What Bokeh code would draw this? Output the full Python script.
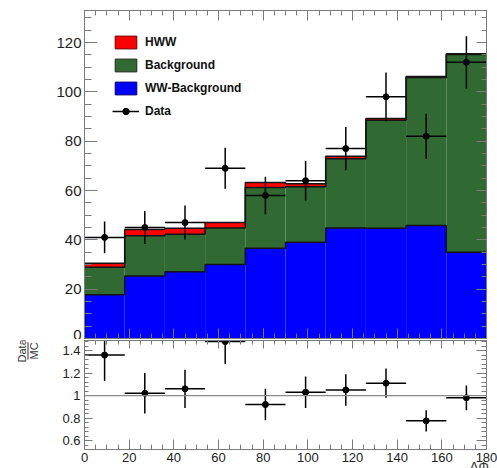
import numpy as np
from bokeh.plotting import figure
from bokeh.layouts import column, row
from bokeh.models import (Range1d, LinearAxis, SingleIntervalTicker, Legend, LegendItem,
                          Span, CustomJSTickFormatter, ColumnDataSource)
from bokeh.embed import file_html
from bokeh.resources import INLINE

# Delta-phi bin edges (degrees)
bin_edges = [0, 18, 36, 54, 72, 90, 108, 126, 144, 162, 180]

# Stacked expectation per bin (events)
ww_background = [17.7, 25.3, 27.1, 30.0, 36.6, 39.0, 44.8, 44.7, 45.8, 35.0]
other_background = [11.2, 16.4, 15.2, 14.8, 24.6, 22.5, 28.1, 43.8, 60.0, 80.2]
hww_signal = [1.6, 2.5, 2.4, 2.2, 2.1, 1.2, 1.0, 0.7, 0.4, 0.3]

# Observed data
data_counts = [41, 45, 47, 69, 58, 64, 77, 98, 82, 112]
data_errors = [6.4, 6.7, 6.9, 8.3, 7.6, 8.0, 8.8, 9.9, 9.1, 10.6]

# Data / MC ratio
ratio_values = [1.36, 1.02, 1.06, 1.48, 0.92, 1.03, 1.05, 1.11, 0.775, 0.98]
ratio_errors = [0.23, 0.18, 0.17, 0.20, 0.14, 0.14, 0.14, 0.13, 0.095, 0.11]

legend_labels = ["HWW", "Background", "WW-Background", "Data"]

FONT = "Liberation Sans"
AXC = "#7a7a7a"
TXT = "#222222"
RED = "#ff0000"
GREEN = "#306a32"
BLUE = "#0000ff"

edges = np.array(bin_edges, dtype=float)
left, right = edges[:-1], edges[1:]
centers = 0.5 * (left + right)

lvl_ww = np.array(ww_background)
lvl_bkg = lvl_ww + np.array(other_background)
lvl_tot = lvl_bkg + np.array(hww_signal)


def add_axis(p, place, ticker, major_in, minor_in, labels=False, size="15px",
             standoff=4, formatter=None):
    ax = LinearAxis(ticker=ticker)
    if formatter is not None:
        ax.formatter = formatter
    ax.major_tick_in = major_in
    ax.major_tick_out = 0
    ax.minor_tick_in = minor_in
    ax.minor_tick_out = 0
    ax.axis_line_color = AXC
    ax.major_tick_line_color = AXC
    ax.minor_tick_line_color = AXC
    if labels:
        ax.major_label_text_font = FONT
        ax.major_label_text_font_size = size
        ax.major_label_text_color = TXT
        ax.major_label_standoff = standoff
    else:
        ax.major_label_text_font_size = "0px"
        ax.major_label_standoff = 0
    p.add_layout(ax, place)
    return ax


def base_figure(width, height, y_range, left_border, top, bottom):
    p = figure(width=width, height=height, x_range=Range1d(0, 180), y_range=y_range,
               output_backend="svg", toolbar_location=None,
               x_axis_location=None, y_axis_location=None,
               min_border_left=left_border, min_border_right=11,
               min_border_top=top, min_border_bottom=bottom)
    p.grid.visible = False
    p.outline_line_color = AXC
    p.background_fill_color = "white"
    p.border_fill_color = "white"
    return p


# ---------------- main distribution ----------------
p1 = base_figure(497, 339, Range1d(0, 133), 84, 10, 1)

p1.quad(left=left, right=right, bottom=0, top=lvl_ww, fill_color=BLUE, line_color=None)
p1.quad(left=left, right=right, bottom=lvl_ww, top=lvl_bkg, fill_color=GREEN, line_color=None)
p1.quad(left=left, right=right, bottom=lvl_bkg, top=lvl_tot, fill_color=RED, line_color=None)

# histogram outlines
for lvl in (lvl_ww, lvl_bkg, lvl_tot):
    p1.step(x=edges, y=np.append(lvl, lvl[-1]), mode="after",
            line_color="#151515", line_width=1.5)

src = ColumnDataSource(dict(x=centers, y=data_counts, xl=left, xr=right,
                            lo=np.array(data_counts) - np.array(data_errors),
                            hi=np.array(data_counts) + np.array(data_errors)))
seg_h = p1.segment(x0="xl", y0="y", x1="xr", y1="y", source=src,
                   line_color="black", line_width=1.5)
p1.segment(x0="x", y0="lo", x1="x", y1="hi", source=src,
           line_color="black", line_width=1.5)
dots = p1.scatter("x", "y", source=src, size=6, color="black")

# legend swatches: outlined boxes that draw nothing inside the frame
nan = [np.nan]
sw_hww = p1.quad(left=nan, right=nan, top=nan, bottom=nan, fill_color=RED, line_color="#6a0000")
sw_bkg = p1.quad(left=nan, right=nan, top=nan, bottom=nan, fill_color=GREEN, line_color="#1c2c1c")
sw_ww = p1.quad(left=nan, right=nan, top=nan, bottom=nan, fill_color=BLUE, line_color="#00006a")

legend = Legend(items=[LegendItem(label=legend_labels[0], renderers=[sw_hww]),
                       LegendItem(label=legend_labels[1], renderers=[sw_bkg]),
                       LegendItem(label=legend_labels[2], renderers=[sw_ww]),
                       LegendItem(label=legend_labels[3], renderers=[seg_h, dots])],
                location=(28, 219), margin=0, padding=0, spacing=7,
                glyph_width=27, glyph_height=16, label_height=16, label_standoff=6,
                label_text_font=FONT, label_text_font_style="bold",
                label_text_font_size="12px", label_text_color="#111111",
                background_fill_alpha=0, border_line_alpha=0)
p1.add_layout(legend)

xt = lambda: SingleIntervalTicker(interval=20, num_minor_ticks=4)
yt = lambda: SingleIntervalTicker(interval=20, num_minor_ticks=4)
add_axis(p1, "left", yt(), 13, 7, labels=True, size="15px", standoff=3)
add_axis(p1, "right", yt(), 10, 5)
add_axis(p1, "above", xt(), 10, 5)
add_axis(p1, "below", xt(), 10, 5)

# ---------------- ratio panel ----------------
RH = 137
p2 = base_figure(447, RH, Range1d(0.52, 1.49), 34, 1, 20)
p2.x_range = p1.x_range

p2.add_layout(Span(location=1.0, dimension="width", line_color="#8a8a8a", line_width=1.2))

rsrc = ColumnDataSource(dict(x=centers, y=ratio_values, xl=left, xr=right,
                             lo=np.array(ratio_values) - np.array(ratio_errors),
                             hi=np.array(ratio_values) + np.array(ratio_errors)))
p2.segment(x0="xl", y0="y", x1="xr", y1="y", source=rsrc, line_color="black", line_width=1.5)
p2.segment(x0="x", y0="lo", x1="x", y1="hi", source=rsrc, line_color="black", line_width=1.5)
p2.scatter("x", "y", source=rsrc, size=6, color="black")

fmt = CustomJSTickFormatter(code="return Number(tick.toFixed(2)).toString();")
rt = lambda: SingleIntervalTicker(interval=0.2, num_minor_ticks=5)
add_axis(p2, "left", rt(), 8, 4, labels=True, size="13px", standoff=4, formatter=fmt)
add_axis(p2, "right", rt(), 10, 5)
add_axis(p2, "above", xt(), 8, 4)
xb = add_axis(p2, "below", xt(), 10, 5, labels=True, size="13px", standoff=3)
xb.axis_label = "ΔΦ\u00a0\u00a0\u00a0\u00a0"
xb.axis_label_standoff = -6
xb.axis_label_text_font = FONT
xb.axis_label_text_font_style = "normal"
xb.axis_label_text_font_size = "13px"
xb.axis_label_text_color = "#333333"
xb.axis_label_align = "end"

# ---------------- fraction-style y title for the ratio panel ----------------
pt = figure(width=50, height=RH, x_range=Range1d(0, 50), y_range=Range1d(RH, 0),
            output_backend="svg", toolbar_location=None,
            x_axis_location=None, y_axis_location=None, min_border=0)
pt.grid.visible = False
pt.outline_line_color = None
pt.text(x=[21], y=[13], text=["Data"], angle=np.pi / 2, text_align="center",
        text_baseline="middle", text_font={"value": FONT}, text_font_size="11px",
        text_color="#333333")
pt.text(x=[33], y=[13], text=["MC"], angle=np.pi / 2, text_align="center",
        text_baseline="middle", text_font={"value": FONT}, text_font_size="11px",
        text_color="#333333")
pt.segment(x0=[27.5], y0=[2], x1=[27.5], y1=[24], line_color="#333333", line_width=1)

layout = column(p1, row(pt, p2, spacing=0), spacing=0)
open("out.html", "w").write(file_html(layout, INLINE))
